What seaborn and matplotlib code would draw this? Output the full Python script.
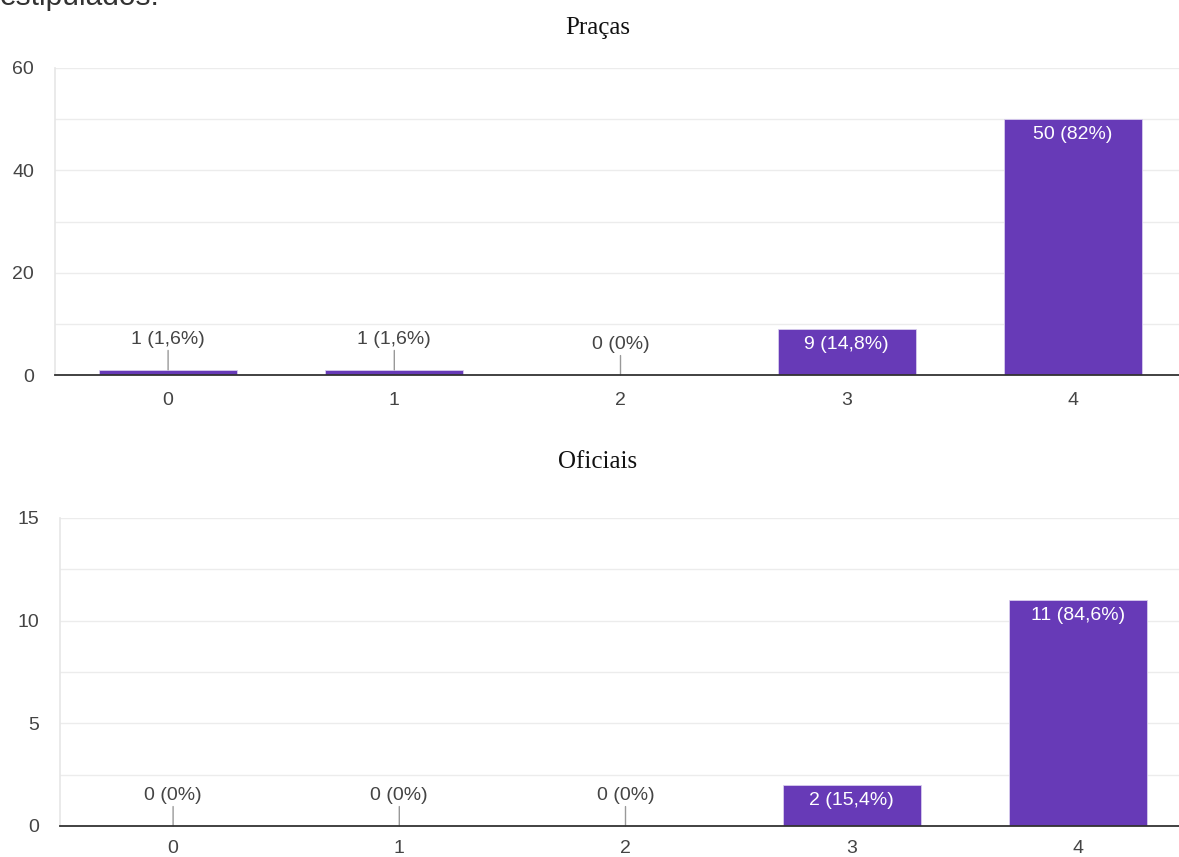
import matplotlib
matplotlib.use("Agg")
import matplotlib.pyplot as plt
import seaborn as sns
import numpy as np

categories = ["0", "1", "2", "3", "4"]
pracas_counts = [1, 1, 0, 9, 50]
pracas_labels = ["1 (1,6%)", "1 (1,6%)", "0 (0%)", "9 (14,8%)", "50 (82%)"]
oficiais_counts = [0, 0, 0, 2, 11]
oficiais_labels = ["0 (0%)", "0 (0%)", "0 (0%)", "2 (15,4%)", "11 (84,6%)"]
pracas_yticks = [0, 20, 40, 60]
oficiais_yticks = [0, 5, 10, 15]
titles = ["Praças", "Oficiais"]
header_text = "estipulados."

sns.set_theme(style="white")
plt.rcParams["font.family"] = ["Liberation Sans", "DejaVu Sans"]

PURPLE = "#673AB7"
TXT = "#444444"
FS = 14

fig = plt.figure(figsize=(11.79, 8.57), dpi=100)

ax1 = fig.add_axes([55 / 1179, 1 - 375 / 857, (1186 - 55) / 1179, (375 - 68) / 857])
ax2 = fig.add_axes([60 / 1179, 1 - 826 / 857, (1191 - 60) / 1179, (826 - 518) / 857])


def draw(ax, counts, labels, yticks, minor_step, inside_threshold, xpad):
    sns.barplot(x=categories, y=counts, color=PURPLE, saturation=1, width=0.61,
                ax=ax, edgecolor="#d8cdee", linewidth=0.6)
    ax.set_xlim(-0.5, 4.5)
    ax.set_ylim(0, yticks[-1])
    ax.set_yticks(yticks)
    ax.set_yticklabels([str(t) for t in yticks], fontsize=FS, color=TXT)
    ax.set_yticks(np.arange(0, yticks[-1] + 0.01, minor_step), minor=True)
    ax.yaxis.grid(True, which="both", color="#ececec", linewidth=1.0)
    ax.set_axisbelow(True)
    ax.tick_params(axis="x", labelsize=FS, colors=TXT, length=0, pad=xpad)
    ax.tick_params(axis="y", length=0, pad=15)
    ax.set_xlabel("")
    ax.set_ylabel("")
    for s in ["top", "right"]:
        ax.spines[s].set_visible(False)
    ax.spines["left"].set_color("#e6e6e6")
    ax.spines["left"].set_linewidth(1.2)
    ax.spines["bottom"].set_color("#333333")
    ax.spines["bottom"].set_linewidth(1.3)
    ax.spines["bottom"].set_zorder(5)
    for i, (v, lab) in enumerate(zip(counts, labels)):
        if v >= inside_threshold:
            ax.annotate(lab, xy=(i, v), xytext=(0, -11), textcoords="offset points",
                        ha="center", va="center", fontsize=FS, color="white")
        else:
            ax.annotate("", xy=(i, v), xytext=(0, 14), textcoords="offset points",
                        arrowprops=dict(arrowstyle="-", color="#999999", lw=1.0,
                                        shrinkA=0, shrinkB=0))
            ax.annotate(lab, xy=(i, v), xytext=(0, 22), textcoords="offset points",
                        ha="center", va="center", fontsize=FS, color=TXT)


draw(ax1, pracas_counts, pracas_labels, pracas_yticks, 10, 5, 12)
draw(ax2, oficiais_counts, oficiais_labels, oficiais_yticks, 2.5, 1.5, 10)

fig.text(598 / 1179, 1 - 28 / 857, titles[0], ha="center", va="center",
         fontsize=18, family=["Liberation Serif", "DejaVu Serif"], color="#111111")
fig.text(598 / 1179, 1 - 462 / 857, titles[1], ha="center", va="center",
         fontsize=18, family=["Liberation Serif", "DejaVu Serif"], color="#111111")
fig.text(0.0, 1 - 5 / 857, header_text, ha="left", va="baseline",
         fontsize=21.5, color="#333333")

fig.savefig("out.png", dpi=100)
